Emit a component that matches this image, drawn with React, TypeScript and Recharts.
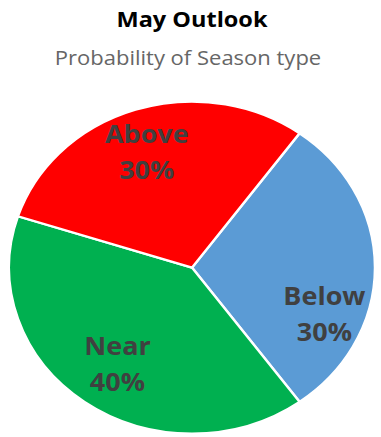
import React from "react";
import { PieChart, Pie, Cell } from "recharts";

const categories = ["Below", "Near", "Above"];
const probabilities = [30, 40, 30];
const sliceColors = ["#5B9BD5", "#00B050", "#FF0000"];
const chartTitle = "May Outlook";
const chartSubtitle = "Probability of Season type";

const data = categories.map((name, i) => ({ name, value: probabilities[i] }));

// label placement tweaks (angle nudge in degrees, radius fraction)
const labelTweaks: Record<string, { da: number; rf: number }> = {
  Below: { da: -21, rf: 0.775 },
  Near: { da: 1, rf: 0.71 },
  Above: { da: 1.5, rf: 0.74 },
};

const SCALE_Y = 0.907;
const W = 381;
const H = Math.round(437 / SCALE_Y);
const RAD = Math.PI / 180;

const renderLabel = (props: any) => {
  const { cx, cy, midAngle, outerRadius, name, value } = props;
  const t = labelTweaks[name] || { da: 0, rf: 0.72 };
  const a = (midAngle + t.da) * RAD;
  const r = outerRadius * t.rf;
  const x = cx + r * Math.cos(-a);
  const y = cy + r * Math.sin(-a);
  return (
    <text
      x={x}
      y={y}
      textAnchor="middle"
      fill="#404040"
      fontFamily="'Open Sans', sans-serif"
      fontWeight={700}
      fontSize={27}
    >
      <tspan x={x} dy={-10}>{name}</tspan>
      <tspan x={x} dy={40}>{`${value}%`}</tspan>
    </text>
  );
};

export default function App() {
  return (
    <div
      style={{
        position: "absolute",
        left: 0,
        top: 0,
        width: W,
        height: H,
        transform: `scaleY(${SCALE_Y})`,
        transformOrigin: "0 0",
        background: "#fff",
      }}
    >
      <svg width={W} height={90} style={{ position: "absolute", left: 0, top: 0 }}>
        <text
          x={192}
          y={30}
          textAnchor="middle"
          fontFamily="'Open Sans', sans-serif"
          fontWeight={700}
          fontSize={23.5}
          fill="#000"
        >
          {chartTitle}
        </text>
        <text
          x={188}
          y={72}
          textAnchor="middle"
          fontFamily="'Open Sans', sans-serif"
          fontSize={22}
          fill="#666666"
        >
          {chartSubtitle}
        </text>
      </svg>
      <div style={{ position: "absolute", left: 0, top: 0 }}>
        <PieChart width={W} height={H} margin={{ top: 0, right: 0, bottom: 0, left: 0 }}>
          <Pie
            data={data}
            dataKey="value"
            nameKey="name"
            cx={192}
            cy={295}
            outerRadius={183}
            startAngle={54}
            endAngle={-306}
            stroke="#ffffff"
            strokeWidth={2.5}
            label={renderLabel}
            labelLine={false}
            isAnimationActive={false}
          >
            {data.map((d, i) => (
              <Cell key={d.name} fill={sliceColors[i]} />
            ))}
          </Pie>
        </PieChart>
      </div>
    </div>
  );
}
